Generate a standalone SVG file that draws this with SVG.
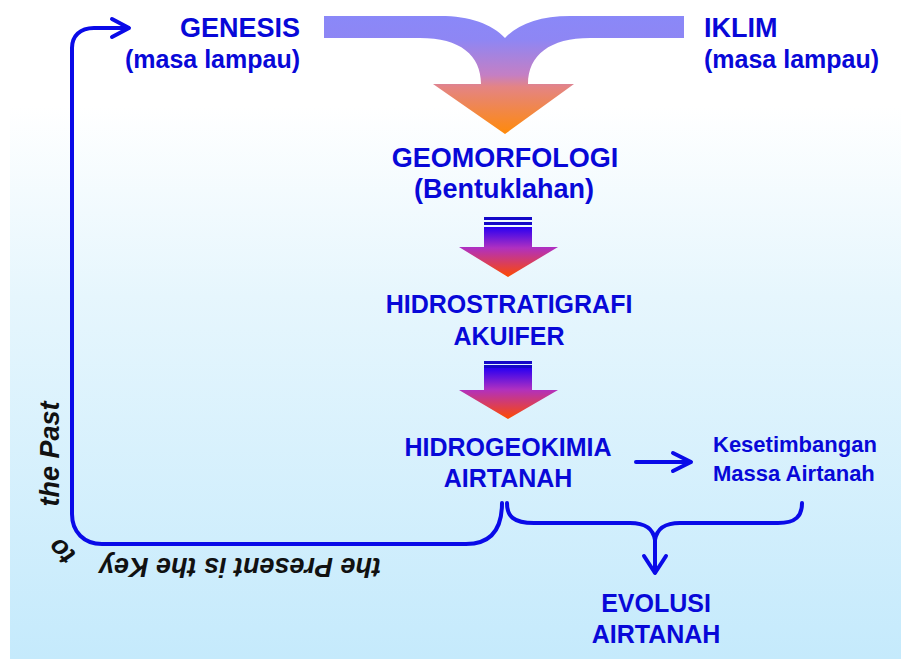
<svg xmlns="http://www.w3.org/2000/svg" width="901" height="659" viewBox="0 0 901 659">
<defs>
<linearGradient id="bg" x1="0" y1="0" x2="0" y2="1">
<stop offset="0" stop-color="#ffffff"/>
<stop offset="0.16" stop-color="#ffffff"/>
<stop offset="0.45" stop-color="#e6f6fd"/>
<stop offset="1" stop-color="#c5eafc"/>
</linearGradient>
<linearGradient id="funnelGrad" gradientUnits="userSpaceOnUse" x1="0" y1="16" x2="0" y2="134">
<stop offset="0" stop-color="#8a88f8"/>
<stop offset="0.2" stop-color="#8e86f4"/>
<stop offset="0.5" stop-color="#c47fc4"/>
<stop offset="0.6" stop-color="#e48484"/>
<stop offset="1" stop-color="#ff8a0a"/>
</linearGradient>
<linearGradient id="arrowGrad" x1="0" y1="0" x2="0" y2="1">
<stop offset="0" stop-color="#2a00f2"/>
<stop offset="0.42" stop-color="#b030c0"/>
<stop offset="1" stop-color="#ff4a00"/>
</linearGradient>
<style>
.t{font-family:"Liberation Sans",Arial,sans-serif;font-weight:bold;fill:#0808d8;}
.c{text-anchor:middle;}
.it{font-family:"Liberation Sans",Arial,sans-serif;font-weight:bold;font-style:italic;fill:#111111;font-size:27px;}
.ln{fill:none;stroke:#0a0ae8;stroke-width:4;stroke-linecap:round;stroke-linejoin:round;}
.bar{fill:#1408c8;}
</style>
</defs>
<rect x="10" y="0" width="891" height="659" fill="url(#bg)"/>

<g id="funnel">
<path d="M324,16 L440,16 C470,16 492,24 505,38 C518,24 540,16 570,16 L684,16 L684,38 L590,38 C550,38 528,55 528,84 L574,84 L505,134 L433,84 L481,84 C481,55 460,38 420,38 L324,38 Z" fill="url(#funnelGrad)"/>
</g>

<g id="genesis">
<text class="t" x="300" y="37" text-anchor="end" font-size="27">GENESIS</text>
<text class="t" x="300" y="68" text-anchor="end" font-size="25">(masa lampau)</text>
</g>

<g id="iklim">
<text class="t" x="704" y="37" font-size="27">IKLIM</text>
<text class="t" x="704" y="68" font-size="25">(masa lampau)</text>
</g>

<g id="geomorfologi">
<text class="t c" x="505" y="167" font-size="27">GEOMORFOLOGI</text>
<text class="t c" x="504" y="198" font-size="27">(Bentuklahan)</text>
</g>

<g id="arrow1">
<rect class="bar" x="484" y="217" width="48" height="3"/>
<rect class="bar" x="484" y="222" width="48" height="3"/>
<path d="M484,227 L532,227 L532,247 L558,247 L508,277 L459,247 L484,247 Z" fill="url(#arrowGrad)"/>
</g>

<g id="hidrostratigrafi">
<text class="t c" x="509" y="313" font-size="25">HIDROSTRATIGRAFI</text>
<text class="t c" x="509" y="345" font-size="25">AKUIFER</text>
</g>

<g id="arrow2">
<rect class="bar" x="484" y="361" width="48" height="3"/>
<rect class="bar" x="484" y="365" width="48" height="3"/>
<path d="M484,368 L532,368 L532,390 L558,390 L508,419 L459,390 L484,390 Z" fill="url(#arrowGrad)"/>
</g>

<g id="hidrogeokimia">
<text class="t c" x="508" y="456" font-size="25">HIDROGEOKIMIA</text>
<text class="t c" x="508" y="487" font-size="25">AIRTANAH</text>
</g>

<g id="kesetimbangan">
<text class="t" x="713" y="452" font-size="22">Kesetimbangan</text>
<text class="t" x="713" y="481" font-size="22">Massa Airtanah</text>
</g>

<g id="evolusi">
<text class="t c" x="656" y="612" font-size="25">EVOLUSI</text>
<text class="t c" x="656" y="643" font-size="25">AIRTANAH</text>
</g>

<g id="connectors">
<path class="ln" d="M502,503 C502,528 492,544 466,544 L102,544 C84,544 72,532 72,514 L72,48 C72,36 80,28 94,28 L128,28"/>
<path class="ln" d="M112,19 L129,28 L112,37"/>
<path class="ln" d="M636,462 L690,462"/>
<path class="ln" d="M673,453 L691,462 L673,471"/>
<path class="ln" d="M507,503 C507,516 513,523 534,523 L630,523 C645,523 653,528 655,540 C657,528 665,523 680,523 L778,523 C796,523 802,516 802,503"/>
<path class="ln" d="M655,538 L655,572"/>
<path class="ln" d="M644,556 L655,573 L666,556"/>
<text class="it" text-anchor="middle" transform="translate(240,558) rotate(180)">the Present is the Key</text>
<text class="it" text-anchor="middle" transform="translate(68,545) rotate(-135)">to</text>
<text class="it" text-anchor="middle" transform="translate(59,454) rotate(-90)">the Past</text>
</g>
</svg>
